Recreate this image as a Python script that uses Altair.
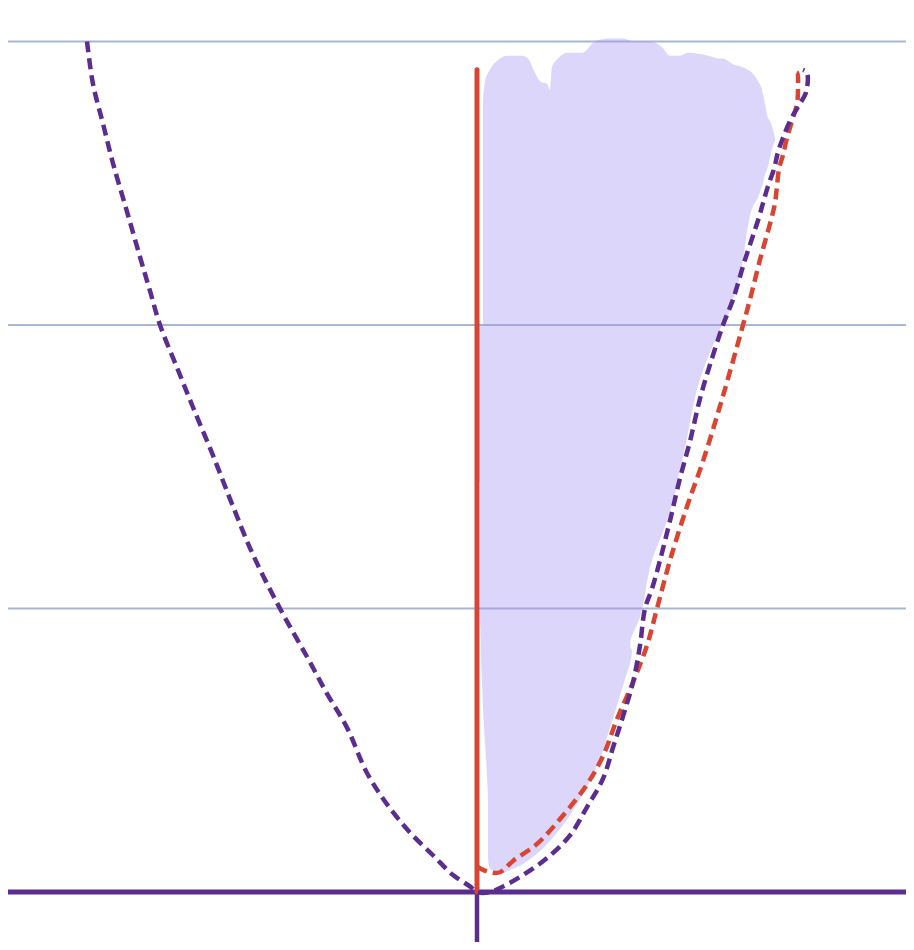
import altair as alt
import pandas as pd

# ---- data ----
purple_x = [-3.90, -3.84, -3.74, -3.64, -3.50, -3.37, -3.27, -3.17, -3.00, -2.84, -2.64, -2.44,
            -2.24, -1.97, -1.70, -1.50, -1.30, -1.10, -0.90, -0.67, -0.44, -0.24, -0.07, 0.00,
            0.13, 0.26, 0.46, 0.70, 0.93, 1.10, 1.26, 1.36, 1.46, 1.56, 1.63, 1.68, 1.75, 1.83,
            1.93, 2.03, 2.13, 2.23, 2.33, 2.46, 2.56, 2.68, 2.82, 2.86, 2.91, 2.97, 3.01, 3.06,
            3.13, 3.21, 3.29, 3.30, 3.26]
purple_y = [3.00, 2.85, 2.71, 2.57, 2.40, 2.24, 2.12, 2.00, 1.85, 1.71, 1.54, 1.36,
            1.19, 1.00, 0.83, 0.70, 0.58, 0.42, 0.31, 0.21, 0.13, 0.06, 0.02, 0.00,
            0.00, 0.02, 0.06, 0.12, 0.20, 0.30, 0.40, 0.51, 0.62, 0.74, 0.87, 1.00, 1.07, 1.17,
            1.31, 1.46, 1.59, 1.74, 1.86, 2.00, 2.09, 2.23, 2.38, 2.43, 2.49, 2.55, 2.61, 2.66,
            2.72, 2.77, 2.82, 2.89, 2.90]

red_x = [0.00, 0.05, 0.13, 0.23, 0.36, 0.60, 0.86, 1.10, 1.26, 1.40, 1.56, 1.70, 1.80,
         1.93, 2.10, 2.26, 2.46, 2.66, 2.73, 2.83, 2.94, 2.98, 3.00, 3.02, 3.06, 3.10,
         3.15, 3.20, 3.21, 3.20, 3.16]
red_y = [0.09, 0.08, 0.07, 0.07, 0.11, 0.17, 0.27, 0.38, 0.48, 0.61, 0.74, 0.87, 1.00,
         1.17, 1.36, 1.52, 1.75, 2.00, 2.09, 2.23, 2.37, 2.43, 2.49, 2.55, 2.60, 2.66,
         2.72, 2.78, 2.84, 2.89, 2.89]

red_axis_top = 2.90

# shaded region: lower body (bounded left/right at each level)
body_y = [0.07, 0.09, 0.13, 0.21, 0.31, 0.47, 0.58, 0.74, 0.85, 0.87, 0.97, 1.17, 1.31,
          1.44, 1.46, 1.55, 1.82, 2.00]
body_left = [0.18, 0.12, 0.11, 0.11, 0.11, 0.09, 0.07, 0.05, 0.04, 0.04, 0.03, 0.03, 0.03,
             0.03, 0.01, 0.01, 0.01, 0.01]
body_right = [0.28, 0.41, 0.58, 0.80, 1.00, 1.23, 1.33, 1.47, 1.55, 1.53, 1.63, 1.75, 1.90,
              2.00, 2.01, 2.07, 2.24, 2.45]

# shaded region: upper part (bumpy top)
top_x = [0.06, 0.08, 0.13, 0.23, 0.30, 0.38, 0.45, 0.51, 0.58, 0.63, 0.70, 0.73, 0.75,
         0.81, 0.91, 1.05, 1.18, 1.31, 1.45, 1.58, 1.73, 1.85, 1.93, 2.03, 2.11, 2.31,
         2.43, 2.46, 2.56, 2.65, 2.71, 2.75, 2.81, 2.85, 2.88, 2.91, 2.93, 2.95, 2.98]
top_upper = [2.79, 2.86, 2.90, 2.94, 2.95, 2.95, 2.95, 2.94, 2.89, 2.86, 2.85, 2.83, 2.91,
             2.94, 2.96, 2.96, 3.00, 3.01, 3.01, 3.00, 3.00, 2.98, 2.95, 2.95, 2.96, 2.95,
             2.94, 2.94, 2.92, 2.91, 2.90, 2.89, 2.86, 2.83, 2.78, 2.73, 2.72, 2.70, 2.66]
top_lower = [2.00, 2.00, 2.00, 2.00, 2.00, 2.00, 2.00, 2.00, 2.00, 2.00, 2.00, 2.00, 2.00,
             2.00, 2.00, 2.00, 2.00, 2.00, 2.00, 2.00, 2.00, 2.00, 2.00, 2.00, 2.00, 2.00,
             2.00, 2.00, 2.09, 2.21, 2.35, 2.41, 2.45, 2.49, 2.53, 2.56, 2.59, 2.62, 2.65]

grid_levels = [1, 2, 3]

# ---- styling ----
X_DOMAIN = [-4.69, 4.29]
Y_DOMAIN = [-0.176, 3.118]
PURPLE = "#5b2d8e"
RED = "#d84532"
GRID = "#a9b8d2"
FILL = "#a090f1"

xs = alt.Scale(domain=X_DOMAIN, nice=False, zero=False)
ys = alt.Scale(domain=Y_DOMAIN, nice=False, zero=False)

purple_df = pd.DataFrame({"x": purple_x, "y": purple_y, "i": range(len(purple_x))})
red_df = pd.DataFrame({"x": red_x, "y": red_y, "i": range(len(red_x))})
body_df = pd.DataFrame({"y": body_y, "l": body_left, "r": body_right})
top_df = pd.DataFrame({"x": top_x, "u": top_upper, "lo": top_lower})
grid_df = pd.DataFrame({"y": grid_levels})
zero_df = pd.DataFrame({"y": [0.0]})
raxis_df = pd.DataFrame({"x": [0.0], "y": [0.0], "y2": [red_axis_top]})
paxis_df = pd.DataFrame({"x": [0.0], "y": [Y_DOMAIN[0]], "y2": [0.0]})

grid = alt.Chart(grid_df).mark_rule(color=GRID, strokeWidth=2).encode(
    y=alt.Y("y:Q", scale=ys, axis=None))

body = alt.Chart(body_df).mark_area(orient="horizontal", color=FILL, opacity=0.37,
                                     interpolate="monotone").encode(
    y=alt.Y("y:Q", scale=ys, axis=None),
    x=alt.X("l:Q", scale=xs, axis=None),
    x2="r:Q")

top = alt.Chart(top_df).mark_area(orient="vertical", color=FILL, opacity=0.37,
                                   interpolate="monotone").encode(
    x=alt.X("x:Q", scale=xs, axis=None),
    y=alt.Y("u:Q", scale=ys, axis=None),
    y2="lo:Q")

h_axis = alt.Chart(zero_df).mark_rule(color=PURPLE, strokeWidth=5).encode(
    y=alt.Y("y:Q", scale=ys, axis=None))

v_axis_low = alt.Chart(paxis_df).mark_rule(color=PURPLE, strokeWidth=4.5).encode(
    x=alt.X("x:Q", scale=xs, axis=None),
    y=alt.Y("y:Q", scale=ys, axis=None), y2="y2:Q")

v_axis_red = alt.Chart(raxis_df).mark_rule(color=RED, strokeWidth=5, strokeCap="round").encode(
    x=alt.X("x:Q", scale=xs, axis=None),
    y=alt.Y("y:Q", scale=ys, axis=None), y2="y2:Q")

red_line = alt.Chart(red_df).mark_line(color=RED, strokeWidth=4.5, strokeDash=[11, 6],
                                       interpolate="catmull-rom").encode(
    x=alt.X("x:Q", scale=xs, axis=None),
    y=alt.Y("y:Q", scale=ys, axis=None),
    order="i:Q")

purple_line = alt.Chart(purple_df).mark_line(color=PURPLE, strokeWidth=4.5, strokeDash=[11, 6],
                                             interpolate="catmull-rom").encode(
    x=alt.X("x:Q", scale=xs, axis=None),
    y=alt.Y("y:Q", scale=ys, axis=None),
    order="i:Q")

chart = alt.layer(grid, body, top, h_axis, v_axis_low, v_axis_red, red_line, purple_line).properties(
    width=898, height=934, padding=0, autosize="none"
).configure_view(stroke=None)

chart.save("out.html", embed_options={"renderer": "svg", "actions": False})
